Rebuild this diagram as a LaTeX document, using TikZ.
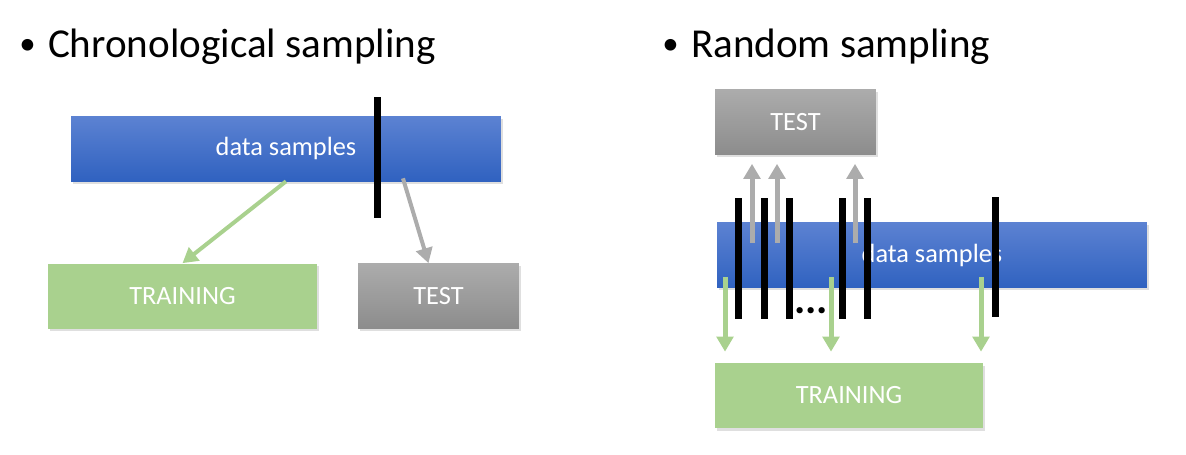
\documentclass[tikz,border=0pt]{standalone}
\usepackage{fontspec}
\setmainfont{Carlito}
\usepackage{tikz}
\usetikzlibrary{positioning}
\usetikzlibrary{arrows.meta}
\usetikzlibrary{shadows}
\usepackage{xcolor}

\definecolor{sampleblueT}{RGB}{92,130,210}
\definecolor{sampleblueB}{RGB}{48,98,192}
\definecolor{testgrayT}{RGB}{172,172,172}
\definecolor{testgrayB}{RGB}{140,140,140}
\definecolor{traingreen}{RGB}{169,209,142}

\newcommand{\titlebullet}{\raisebox{0.05em}{\scalebox{0.8}{\textbullet}}\hspace{0.3em}}

\tikzset{
  titletext/.style={anchor=base west, inner sep=0pt, font=\fontsize{23.4}{28}\selectfont},
  boxtext/.style={text=white, font=\fontsize{15}{18}\selectfont},
  databox/.style={boxtext, minimum width=8.6cm, minimum height=1.3cm, top color=sampleblueT, bottom color=sampleblueB,
    drop shadow={shadow xshift=0.04cm, shadow yshift=-0.05cm, opacity=0.25}},
  testbox/.style={boxtext, minimum width=3.22cm, minimum height=1.3cm, top color=testgrayT, bottom color=testgrayB,
    drop shadow={shadow xshift=0.04cm, shadow yshift=-0.05cm, opacity=0.25}},
  trainbox/.style={boxtext, minimum width=5.37cm, minimum height=1.3cm, fill=traingreen,
    drop shadow={shadow xshift=0.04cm, shadow yshift=-0.05cm, opacity=0.25}},
  cutbar/.style={black, line width=0.14cm},
  trainarr/.style={traingreen, line width=0.1cm, -{Triangle[width=0.33cm, length=0.3cm]}},
  testarr/.style={testgrayT, line width=0.1cm, -{Triangle[width=0.33cm, length=0.3cm]}}
}

\begin{document}
\begin{tikzpicture}[x=0.02cm, y=-0.02cm]

\useasboundingbox (0,0) rectangle (1186,454);

% chronological sampling
\begin{scope}{

\node[titletext] (titlel) at (19,57) {\titlebullet Chronological sampling};

\node[databox] (datal) at (286,148.5) {data samples};
\node[trainbox] (trainl) at (182.5,296) {TRAINING};
\node[testbox, minimum width=3.22cm] (testl) at (438.5,296) {TEST};

\draw[cutbar] (377,97) -- (377,218);

\draw[trainarr, line width=0.08cm] (datal.south) -- (trainl.north);
\draw[testarr, line width=0.08cm] ([xshift=2.34cm, yshift=0.06cm]datal.south) -- ([xshift=-0.2cm]testl.north);

} \end{scope}

% random sampling
\begin{scope}{

\node[titletext] (titler) at (662,57) {\titlebullet Random sampling};

\node[testbox] (testr) at (795.5,122) {TEST};
\node[databox] (datar) at (932,255) {data samples};
\node[trainbox] (trainr) at (849,395.5) {TRAINING};

% samples going to test and training
\foreach \x in {752,777,855}
  \draw[testarr, shorten >=0.18cm] (\x,243) -- (\x,0 |- testr.south);
\foreach \x in {725,831,981}
  \draw[trainarr, shorten >=0.22cm] (\x,277) -- (\x,0 |- trainr.north);

% cuts
\foreach \x in {738,764,789,842,867}
  \draw[cutbar] (\x,198) -- (\x,319);
\draw[cutbar] (995,197) -- (995,317);

\node[font=\fontsize{24}{24}\selectfont\bfseries, inner sep=0pt] (dotsr) at (811,311) {...};

} \end{scope}

\end{tikzpicture}
\end{document}
